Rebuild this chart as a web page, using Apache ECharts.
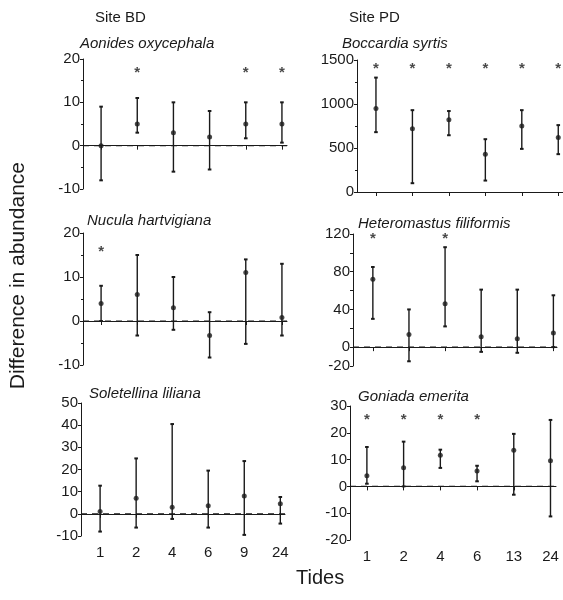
<!DOCTYPE html>
<html><head><meta charset="utf-8">
<script src="https://cdn.jsdelivr.net/npm/echarts@6/dist/echarts.min.js"></script>
<style>html,body{margin:0;padding:0;background:#fff}#c{width:563px;height:600px}</style>
</head><body><div id="c"></div>
<script>
// Tick labels (tides)
const tidesBD = ['1', '2', '4', '6', '9', '24'];
const tidesPD = ['1', '2', '4', '6', '13', '24'];

// Aonides oxycephala (Site BD)
const aonidesMean = [0, 5, 3, 2, 5, 5];
const aonidesLow  = [-8, 3, -6, -5.5, 1.7, 0.7];
const aonidesHigh = [9, 11, 10, 8, 10, 10];
const aonidesSig  = [0, 1, 0, 0, 1, 1];

// Boccardia syrtis (Site PD)
const boccardiaMean = [950, 720, 820, 430, 750, 620];
const boccardiaLow  = [680, 100, 645, 130, 490, 430];
const boccardiaHigh = [1300, 930, 920, 600, 930, 760];
const boccardiaSig  = [1, 1, 1, 1, 1, 1];

// Nucula hartvigiana (Site BD)
const nuculaMean = [4, 6, 3, -3.3, 11, 0.8];
const nuculaLow  = [0, -3.3, -2, -8.3, -5.2, -3.3];
const nuculaHigh = [8, 15, 10, 2, 14, 13];
const nuculaSig  = [1, 0, 0, 0, 0, 0];

// Heteromastus filiformis (Site PD)
const heteroMean = [72, 13.5, 46, 11, 9, 15];
const heteroLow  = [30, -15, 22, -5, -6, 0];
const heteroHigh = [85, 40, 106, 61, 61, 55];
const heteroSig  = [1, 0, 1, 0, 0, 0];

// Soletellina liliana (Site BD)
const soleMean = [1, 7, 3, 3.7, 8, 4.6];
const soleLow  = [-8, -6.2, -2.3, -6.2, -9.5, -4.4];
const soleHigh = [12.7, 25, 40.5, 19.5, 23.8, 7.6];
const soleSig  = [0, 0, 0, 0, 0, 0];

// Goniada emerita (Site PD)
const goniadaMean = [4, 7, 11.6, 5.7, 13.5, 9.6];
const goniadaLow  = [1, 0, 6.9, 1.9, -3.1, -11.2];
const goniadaHigh = [14.7, 16.7, 13.7, 7.7, 19.6, 24.8];
const goniadaSig  = [1, 1, 1, 1, 0, 0];

const FONT = '"Liberation Sans", Arial, sans-serif';
const INK = '#1a1a1a';

const panels = [
  {name: 'Aonides oxycephala', tides: tidesBD, mean: aonidesMean, low: aonidesLow, high: aonidesHigh, sig: aonidesSig, sigY: 17.7,
   grid: {left: 83, top: 59, width: 204, height: 130}, xMin: -0.5, xMax: 5.14, yMin: -10, yMax: 20, interval: 10, minor: true, showX: false, tx: 80, ty: 36},
  {name: 'Boccardia syrtis', tides: tidesPD, mean: boccardiaMean, low: boccardiaLow, high: boccardiaHigh, sig: boccardiaSig, sigY: 1447,
   grid: {left: 357, top: 60, width: 206, height: 132}, xMin: -0.52, xMax: 5.13, yMin: 0, yMax: 1500, interval: 500, minor: true, showX: false, tx: 342, ty: 36},
  {name: 'Nucula hartvigiana', tides: tidesBD, mean: nuculaMean, low: nuculaLow, high: nuculaHigh, sig: nuculaSig, sigY: 16.6,
   grid: {left: 83, top: 233, width: 204, height: 132}, xMin: -0.5, xMax: 5.14, yMin: -10, yMax: 20, interval: 10, minor: true, showX: false, tx: 87, ty: 213},
  {name: 'Heteromastus filiformis', tides: tidesPD, mean: heteroMean, low: heteroLow, high: heteroHigh, sig: heteroSig, sigY: 119,
   grid: {left: 353, top: 234, width: 204, height: 132}, xMin: -0.55, xMax: 5.1, yMin: -20, yMax: 120, interval: 20, labels: [-20, 0, 40, 80, 120], minor: false, showX: false, tx: 358, ty: 216},
  {name: 'Soletellina liliana', tides: tidesBD, mean: soleMean, low: soleLow, high: soleHigh, sig: soleSig, sigY: 0,
   grid: {left: 81, top: 403, width: 204, height: 133}, xMin: -0.53, xMax: 5.13, yMin: -10, yMax: 50, interval: 10, minor: false, showX: true, tx: 89, ty: 386},
  {name: 'Goniada emerita', tides: tidesPD, mean: goniadaMean, low: goniadaLow, high: goniadaHigh, sig: goniadaSig, sigY: 26.4,
   grid: {left: 350, top: 406, width: 206, height: 134}, xMin: -0.46, xMax: 5.15, yMin: -20, yMax: 30, interval: 10, minor: false, showX: true, tx: 358, ty: 389}
];

const idx = [0, 1, 2, 3, 4, 5];
const grids = [], xAxes = [], yAxes = [], series = [], titles = [];

function renderErr(params, api) {
  const x = api.value(0), lo = api.value(1), hi = api.value(2);
  const a = api.coord([x, lo]), b = api.coord([x, hi]);
  const c = 1.8;
  const st = {stroke: INK, lineWidth: 1.4};
  return {type: 'group', children: [
    {type: 'line', shape: {x1: a[0], y1: a[1], x2: b[0], y2: b[1]}, style: st},
    {type: 'line', shape: {x1: a[0] - c, y1: a[1], x2: a[0] + c, y2: a[1]}, style: {stroke: INK, lineWidth: 2}},
    {type: 'line', shape: {x1: b[0] - c, y1: b[1], x2: b[0] + c, y2: b[1]}, style: {stroke: INK, lineWidth: 2}}
  ]};
}

// dashed zero reference line drawn across the whole plot width
function renderZero(params, api) {
  const cs = params.coordSys;
  const y = api.coord([0, 0])[1];
  return {type: 'line', shape: {x1: cs.x, y1: y, x2: cs.x + cs.width, y2: y},
    style: {stroke: INK, lineWidth: 1.2, lineDash: [6, 5]}};
}

panels.forEach((p, i) => {
  grids.push(p.grid);
  xAxes.push({
    gridIndex: i, type: 'value', min: p.xMin, max: p.xMax,
    axisLine: {show: true, lineStyle: {color: INK, width: 1}},
    axisTick: {show: true, customValues: idx, length: 4, lineStyle: {color: INK}},
    axisLabel: {show: p.showX, customValues: idx, formatter: v => p.tides[Math.round(v)], fontSize: 15, color: INK, fontFamily: FONT, margin: 9},
    splitLine: {show: false}
  });
  yAxes.push({
    gridIndex: i, type: 'value', min: p.yMin, max: p.yMax, interval: p.interval,
    axisLine: {show: true, onZero: false, lineStyle: {color: INK, width: 1}},
    axisTick: {show: true, length: 3, lineStyle: {color: INK}},
    minorTick: {show: p.minor, splitNumber: 2, length: 2, lineStyle: {color: INK}},
    axisLabel: {fontSize: 15, color: INK, fontFamily: FONT, margin: 3,
      formatter: v => (p.labels && p.labels.indexOf(v) < 0) ? '' : String(v)},
    splitLine: {show: false}
  });
  titles.push({text: p.name, left: p.tx, top: p.ty, padding: 0,
    textStyle: {fontSize: 15, fontStyle: 'italic', fontWeight: 'normal', color: INK, fontFamily: FONT}});

  if (p.yMin < 0) {
    series.push({
      type: 'custom', xAxisIndex: i, yAxisIndex: i, renderItem: renderZero, silent: true,
      data: [[0, 0]], z: 1
    });
  }
  series.push({
    type: 'custom', xAxisIndex: i, yAxisIndex: i, renderItem: renderErr,
    encode: {x: 0, y: [1, 2]}, silent: true,
    data: idx.map(k => [k, p.low[k], p.high[k]]), z: 2
  });
  series.push({
    type: 'scatter', xAxisIndex: i, yAxisIndex: i, symbol: 'circle', symbolSize: 5,
    itemStyle: {color: INK}, silent: true, z: 3,
    data: idx.map(k => [k, p.mean[k]])
  });
  const sigData = idx.filter(k => p.sig[k]).map(k => [k, p.sigY]);
  if (sigData.length) {
    series.push({
      type: 'scatter', xAxisIndex: i, yAxisIndex: i, symbolSize: 1, silent: true,
      itemStyle: {color: 'rgba(0,0,0,0)'},
      label: {show: true, position: 'inside', formatter: '*', fontSize: 15, fontWeight: 'bold', color: INK, fontFamily: FONT, offset: [0, 4]},
      data: sigData
    });
  }
});

titles.push({text: 'Site BD', left: 95, top: 10, padding: 0, textStyle: {fontSize: 15, fontWeight: 'normal', color: INK, fontFamily: FONT}});
titles.push({text: 'Site PD', left: 349, top: 10, padding: 0, textStyle: {fontSize: 15, fontWeight: 'normal', color: INK, fontFamily: FONT}});

const chart = echarts.init(document.getElementById('c'), null, {renderer: 'canvas'});
chart.setOption({
  backgroundColor: '#fff',
  animation: false,
  title: titles,
  grid: grids,
  xAxis: xAxes,
  yAxis: yAxes,
  series: series,
  graphic: [
    {type: 'text', left: 8, top: 162, rotation: Math.PI / 2,
     style: {text: 'Difference in abundance', fontSize: 21, fill: INK, fontFamily: FONT}},
    {type: 'text', left: 296, top: 568,
     style: {text: 'Tides', fontSize: 20, fill: INK, fontFamily: FONT}}
  ]
});
</script></body></html>
